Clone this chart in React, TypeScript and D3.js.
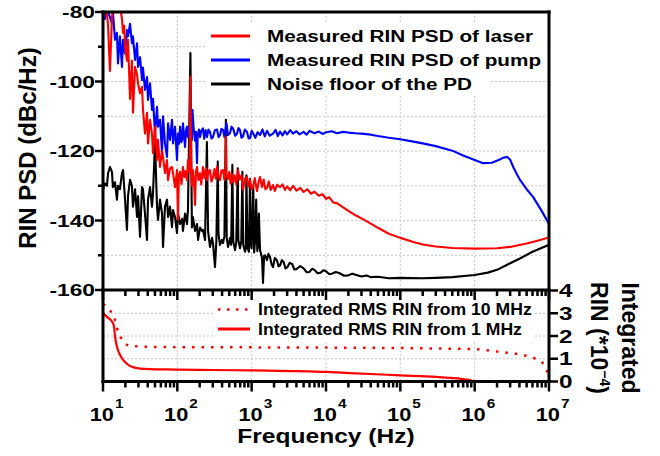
import React from "react";
import * as d3 from "d3";

// ---------- data ----------
const laserRIN: [number, number][] = [
  [10,-82.3],[10.6,-79],[11.3,-80.4],[11.7,-84],[12.4,-97],[13.2,-82],[13.6,-79],[14.5,-78],[15.4,-77],[16.9,-78],[18.0,-82],[18.6,-86],[19.3,-84],[19.8,-90],[21.0,-94],[21.7,-88],[23.1,-105],[24.5,-94],[25.3,-109],[27.0,-95.8],[28.7,-98],[29.6,-100.5],[31.5,-103.4],[33.5,-101.5],[34.5,-108],[36.7,-115],[39.1,-109],[40.3,-117.8],[42.9,-111],[45.6,-115],[47.1,-120.6],[50.1,-113],[53.3,-122.6],[55.0,-116.8],[58.5,-124.6],[62.2,-120],[64.2,-121.7],[68.2,-126.4],[72.6,-122.6],[75.0,-128.4],[79.7,-125],[84.8,-124.6],[89,-127.5],[93.1,-130.4],[99,-125.5],[102,-139.8],[105,-127],[109,-126],[114,-129.5],[119,-124.6],[125,-127.5],[130,-125.8],[135,-128.4],[139,-122.6],[144,-126],[147,-124],[150,-98.6],[153,-124],[157,-130],[162,-125.5],[167,-128.6],[173,-135.5],[178,-126],[184,-124.6],[192,-128.4],[202,-126.4],[210,-129.6],[221,-124.6],[232,-127.8],[243,-125],[251,-128.4],[263,-126],[275,-125.5],[288,-128.8],[302,-127.5],[315,-125.2],[330,-128],[342,-124.6],[358,-127.2],[375,-128.4],[392,-125.6],[412,-125.5],[430,-128.3],[445,-126.4],[450,-115.9],[456,-127],[481,-128],[500,-126],[520,-129.4],[540,-126.6],[561,-128.9],[590,-127],[620,-129.6],[655,-125.5],[690,-128.2],[730,-127],[765,-131.2],[810,-128],[866,-127.5],[900,-130.2],[950,-128.3],[1000,-131],[1042,-130.4],[1100,-127.8],[1180,-131.5],[1250,-128.6],[1295,-127.5],[1380,-130.4],[1450,-128.2],[1530,-131],[1608,-130.6],[1700,-128.7],[1800,-131.2],[1937,-129.8],[2050,-131.5],[2200,-129.7],[2404,-130.4],[2600,-129.6],[2800,-131.2],[3000,-130.2],[3300,-131.3],[3600,-130],[4000,-131.4],[4500,-130.6],[5000,-131.8],[5600,-131],[6300,-132.3],[7000,-131.7],[8000,-132.9],[9000,-132.4],[10000,-133.8],[11000,-133.3],[12500,-134.8],[14000,-135],[17000,-136.2],[20000,-137.2],[25000,-138.5],[30000,-139.4],[40000,-140.9],[50000,-142.1],[70000,-143.8],[1e5,-145],[1.5e5,-146.2],[2e5,-146.9],[3e5,-147.5],[5e5,-147.9],[1e6,-148.1],[2e6,-148],[3e6,-147.6],[5e6,-146.6],[7e6,-145.8],[1e7,-144.9],
];

const pumpRIN: [number, number][] = [
  [10,-80.4],[10.6,-82],[11.3,-79],[11.7,-80],[12.4,-81.5],[13.2,-83.4],[13.6,-80],[14.5,-88],[15.4,-86],[15.9,-94.8],[16.9,-87],[18.0,-95.8],[18.6,-88],[19.8,-92],[21.0,-85.2],[21.7,-87],[23.1,-83.4],[24.5,-89],[25.3,-87],[27.0,-93.8],[28.7,-89],[29.6,-95.8],[31.5,-93],[33.5,-99.6],[34.5,-96],[36.7,-102.4],[39.1,-98.7],[40.3,-105.3],[42.9,-100.5],[45.6,-108.2],[47.1,-105],[50.1,-115],[53.3,-107.3],[55.0,-113],[58.5,-111],[62.2,-120.6],[64.2,-110],[68.2,-117.8],[72.6,-121.7],[75.0,-112],[79.7,-116.8],[84.8,-111],[87.5,-117.8],[93.1,-113],[99,-122.6],[102,-115],[105,-118],[109,-113],[113,-117.5],[116,-116.8],[119,-112],[123,-115.5],[127,-118.8],[131,-114],[135,-113],[139,-116],[144,-113.2],[150,-112],[154,-115.5],[157,-116.8],[160,-108.2],[165,-113],[173,-117],[178,-114.5],[184,-123.5],[188,-115.5],[195,-113.8],[202,-116],[210,-114.2],[221,-113.5],[230,-116.5],[240,-114],[251,-116],[262,-113.8],[275,-114.5],[288,-116.4],[302,-116],[320,-114],[342,-113.8],[358,-116],[375,-115.5],[392,-113.6],[412,-114],[430,-116],[458,-112],[480,-115.4],[512,-114.8],[535,-113],[561,-113.5],[600,-115.6],[635,-115],[665,-113.4],[697,-114],[730,-116.2],[765,-115.8],[810,-113.8],[866,-114.5],[910,-116.4],[950,-116.3],[1000,-114.2],[1042,-114.8],[1120,-116.2],[1200,-114.6],[1295,-115.4],[1400,-113.8],[1500,-115.8],[1608,-114.2],[1750,-115.6],[1937,-115],[2100,-113.9],[2250,-115.7],[2404,-114.4],[2600,-115.5],[2800,-114.3],[3000,-115.2],[3300,-114],[3600,-115],[4000,-114.3],[4400,-115.2],[5000,-114.5],[5500,-115.3],[6000,-114.2],[7000,-114.9],[8000,-114.4],[9000,-115.1],[10000,-114.6],[12000,-114.3],[14000,-114.9],[17000,-114.5],[20000,-114.7],[25000,-114.9],[30000,-115],[40000,-115.3],[50000,-115.7],[70000,-116.2],[1e5,-116.6],[1.5e5,-117.3],[2e5,-117.8],[3e5,-118.6],[5e5,-119.9],[7e5,-121.3],[1e6,-122.6],[1.3e6,-123.5],[1.7e6,-123.4],[2.1e6,-122.6],[2.45e6,-121.9],[2.75e6,-121.7],[3e6,-122.5],[3.3e6,-124.6],[3.7e6,-126.7],[4.1e6,-128.4],[5e6,-131],[6.1e6,-133.2],[8e6,-137.3],[1e7,-141],
];

const noiseFloor: [number, number][] = [
  [10,-131.2],[10.6,-129.3],[11.3,-130],[11.7,-126.4],[12.4,-124.6],[13.2,-126],[13.6,-130.4],[14.5,-129],[15.4,-134],[15.9,-130],[16.9,-131],[18.0,-126.4],[18.6,-125.5],[19.8,-134],[21.0,-142.7],[21.7,-133],[23.1,-128.3],[24.5,-130],[25.3,-136],[27.0,-131],[28.7,-139],[29.6,-133],[31.5,-144.7],[33.5,-130.4],[34.5,-131],[36.7,-138],[39.1,-145.6],[40.3,-134],[42.9,-130.4],[45.6,-136],[47.1,-132],[50.1,-117.7],[53.3,-136],[55.0,-139.8],[58.5,-134],[62.2,-138],[64.2,-147.6],[68.2,-136],[72.6,-134],[75.0,-139],[79.7,-136],[84.8,-141.9],[87.5,-137],[93.1,-139],[99,-143.6],[102,-138],[109,-141],[116,-139.5],[119,-143],[127,-138],[135,-141],[139,-137],[150,-91.8],[157,-142],[162,-139],[173,-143],[184,-141],[190,-145.6],[202,-142],[215,-143],[221,-142.7],[236,-145.6],[250,-117.4],[259,-143],[275,-147.6],[293,-145],[302,-146.5],[321,-153.4],[335,-146],[350,-123],[358,-144],[375,-147],[399,-145.6],[412,-146.5],[430,-144.5],[450,-111],[462,-145],[481,-147.6],[512,-145],[530,-147],[550,-124],[565,-146],[597,-148.5],[620,-146.5],[650,-125],[662,-145.6],[697,-148],[725,-146],[750,-126],[770,-147],[814,-149],[835,-147.4],[850,-127],[880,-148],[920,-149],[950,-128],[975,-147],[1000,-148],[1050,-130],[1080,-149.2],[1109,-146],[1150,-134],[1190,-148.8],[1217,-147],[1250,-138],[1295,-148.5],[1378,-150.7],[1421,-158],[1470,-150.2],[1512,-150],[1608,-151.4],[1680,-149.6],[1765,-150.5],[1850,-152.6],[1937,-153.4],[2050,-150.8],[2193,-151.5],[2300,-153.2],[2404,-153],[2550,-151.4],[2700,-152],[2850,-153.8],[3000,-153.5],[3250,-152.2],[3500,-152.5],[3750,-154.1],[4000,-154],[4500,-153.1],[5000,-153.8],[5500,-154.9],[6000,-154.8],[6500,-153.9],[7000,-154.2],[7700,-155.2],[8500,-155],[9200,-154.3],[10000,-154.6],[11000,-155.4],[12000,-155.3],[13500,-154.8],[15000,-155.1],[17500,-155.9],[20000,-155.8],[22500,-155.3],[25000,-155.6],[30000,-156.1],[35000,-155.8],[40000,-156.3],[50000,-156.2],[70000,-156.6],[1e5,-156.5],[2e5,-156.6],[3e5,-156.5],[5e5,-156.3],[1e6,-155.7],[1.5e6,-155],[2e6,-154.2],[2.7e6,-152.8],[3e6,-152.3],[4e6,-151],[6e6,-149],[1e7,-147],
];

const rmsFrom10MHz: [number, number][] = [
  [10,3.4],[10.6,3.35],[11.7,3.16],[13.6,2.97],[14.5,2.7],[15.4,2.36],[17.4,1.93],[19,1.73],[23,1.57],[30,1.54],[42,1.52],[100,1.51],[1000,1.5],[1e4,1.49],[1e5,1.47],[3e5,1.45],[1e6,1.42],[2.2e6,1.3],[4.5e6,1.16],[6.4e6,1.02],[8.3e6,0.8],[9.3e6,0.5],[1e7,0.13],
];

const rmsFrom1MHz: [number, number][] = [
  [10,3.02],[11.3,2.84],[13.2,2.64],[14,2.45],[14.5,2.0],[15,1.69],[15.9,1.38],[18,1.02],[19.8,0.86],[23.1,0.68],[31.5,0.57],[72,0.53],[1000,0.49],[1e4,0.42],[2.1e4,0.37],[1e5,0.27],[3e5,0.2],[4.7e5,0.16],[7.9e5,0.08],[9.3e5,0.03],[1e6,0],
];

const psdTicks = [-160, -140, -120, -100, -80];
const psdMinorTicks = [-150, -130, -110, -90];
const rinTicks = [0, 1, 2, 3, 4];
const decadeExponents = [1, 2, 3, 4, 5, 6, 7];

const topLegend = [
  { label: "Measured RIN PSD of laser", color: "#ff0000" },
  { label: "Measured RIN PSD of pump", color: "#0000ff" },
  { label: "Noise floor of the PD", color: "#000000" },
];
const bottomLegend = [
  { label: "Integrated RMS RIN from 10 MHz", dotted: true },
  { label: "Integrated RMS RIN from 1 MHz", dotted: false },
];

const FONT = "'Liberation Sans', Arial, Helvetica, sans-serif";

function T(props: {
  x: number; y: number; sx?: number; size: number; anchor?: string; children: React.ReactNode; rotate?: number;
}) {
  const { x, y, sx = 1, size, anchor = "start", children, rotate = 0 } = props;
  return (
    <text
      transform={`translate(${x},${y}) rotate(${rotate}) scale(${sx},1)`}
      textAnchor={anchor as any}
      fontSize={size}
      fontWeight="bold"
      fontFamily={FONT}
      fill="#000"
    >
      {children}
    </text>
  );
}

export default function App() {
  const x = d3.scaleLog().domain([10, 1e7]).range([103, 549]);
  const yTop = d3.scaleLinear().domain([-160, -80]).range([290, 12]);
  const yBot = d3.scaleLinear().domain([0, 4]).range([381.5, 290.5]);

  const lineTop = d3.line<[number, number]>().x((d) => x(d[0])).y((d) => yTop(d[1]));
  const lineBot = d3
    .line<[number, number]>()
    .x((d) => x(d[0]))
    .y((d) => yBot(d[1]))
    .curve(d3.curveMonotoneX);

  const allTicks = x.ticks();
  const isMajor = (v: number) => Math.abs(Math.log10(v) - Math.round(Math.log10(v))) < 1e-9;
  const majorX = allTicks.filter(isMajor);
  const minorX = allTicks.filter((v) => !isMajor(v));

  const x0 = x.range()[0], x1 = x.range()[1];
  const yT0 = yTop.range()[1], yT1 = yTop.range()[0];
  const yB0 = yBot.range()[1], yB1 = yBot.range()[0];
  const grid = "#c4c4c4";

  return (
    <svg width={660} height={456} style={{ position: "absolute", left: 0, top: 0, background: "#fff" }}>
      <defs>
        <clipPath id="clipTop">
          <rect x={x0} y={yT0} width={x1 - x0} height={yT1 - yT0} />
        </clipPath>
        <clipPath id="clipBot">
          <rect x={x0} y={yB0} width={x1 - x0 + 2} height={yB1 - yB0 + 2} />
        </clipPath>
      </defs>

      {/* grid top */}
      {[...psdTicks, ...psdMinorTicks].map((v) => (
        <line key={"gt" + v} x1={x0} x2={x1} y1={yTop(v)} y2={yTop(v)} stroke={grid} strokeDasharray="2,2" />
      ))}
      {majorX.map((v) => (
        <line key={"gv" + v} x1={x(v)} x2={x(v)} y1={yT0} y2={yT1} stroke={grid} strokeDasharray="2,2" />
      ))}
      {/* grid bottom */}
      {rinTicks.map((v) => (
        <line key={"gb" + v} x1={x0} x2={x1} y1={yBot(v)} y2={yBot(v)} stroke={grid} strokeDasharray="2,2" />
      ))}
      {majorX.map((v) => (
        <line key={"gbv" + v} x1={x(v)} x2={x(v)} y1={yB0} y2={yB1} stroke={grid} strokeDasharray="2,2" />
      ))}

      {/* curves top */}
      <g clipPath="url(#clipTop)" fill="none" strokeWidth={2.1} strokeLinejoin="round">
        <path d={lineTop(noiseFloor) || ""} stroke="#000" />
        <path d={lineTop(pumpRIN) || ""} stroke="#0000ff" />
        <path d={lineTop(laserRIN) || ""} stroke="#ff0000" />
      </g>

      {/* top legend */}
      <rect x={205} y={24} width={340} height={48} fill="#fff" />
      <rect x={205} y={72} width={285} height={23} fill="#fff" />
      {topLegend.map((d, i) => {
        const yy = 36 + i * 24;
        return (
          <g key={d.label}>
            <line x1={211} x2={250} y1={yy} y2={yy} stroke={d.color} strokeWidth={3} />
            <T x={267} y={yy + 6} size={17} sx={1.22}>{d.label}</T>
          </g>
        );
      })}

      {/* bottom legend */}
      <rect x={214} y={299} width={321} height={42} fill="#fff" />
      {bottomLegend.map((d, i) => {
        const yy = 309.5 + i * 19.5;
        return (
          <g key={d.label}>
            <line
              x1={218} x2={250} y1={yy} y2={yy} stroke="#ff0000"
              strokeWidth={d.dotted ? 2.5 : 3}
              strokeDasharray={d.dotted ? "2.5,6.5" : undefined}
            />
            <T x={258} y={yy + 5.5} size={16.3} sx={1.08}>{d.label}</T>
          </g>
        );
      })}

      {/* curves bottom */}
      <g clipPath="url(#clipBot)" fill="none" stroke="#ff0000">
        <path d={lineBot(rmsFrom10MHz) || ""} strokeWidth={2.5} strokeDasharray="2.5,7" />
        <path d={lineBot(rmsFrom1MHz) || ""} strokeWidth={2.2} />
      </g>

      {/* frames */}
      <g stroke="#000" strokeWidth={3} fill="none" strokeLinecap="square">
        <line x1={x0} x2={x1} y1={yT0} y2={yT0} />
        <line x1={x1} x2={x1} y1={yT0} y2={yB1} />
        <line x1={x0} x2={x0} y1={yT0} y2={yB1} />
        <line x1={x0} x2={x1} y1={yT1} y2={yT1} />
        <line x1={x0} x2={x1} y1={yB1} y2={yB1} />
      </g>

      {/* ticks */}
      <g stroke="#000" strokeWidth={2.5}>
        {psdTicks.map((v) => (
          <line key={"yt" + v} x1={x0 - 8} x2={x0} y1={yTop(v)} y2={yTop(v)} />
        ))}
        {psdMinorTicks.map((v) => (
          <line key={"ym" + v} x1={x0 - 5} x2={x0} y1={yTop(v)} y2={yTop(v)} />
        ))}
        {rinTicks.map((v) => (
          <line key={"rt" + v} x1={x1} x2={x1 + 9} y1={yBot(v)} y2={yBot(v)} />
        ))}
        {[yT1, yB1].map((yy) => (
          <g key={"xt" + yy}>
            {majorX.map((v) => (
              <line key={"M" + v} x1={x(v)} x2={x(v)} y1={yy} y2={yy + 10} />
            ))}
            {minorX.map((v) => (
              <line key={"m" + v} x1={x(v)} x2={x(v)} y1={yy} y2={yy + 6} />
            ))}
          </g>
        ))}
      </g>

      {/* tick labels */}
      {psdTicks.map((v) => (
        <T key={"yl" + v} x={95} y={yTop(v) + 6} size={16.5} sx={1.38} anchor="end">{String(v)}</T>
      ))}
      {rinTicks.map((v) => (
        <T key={"rl" + v} x={559} y={yBot(v) + 6.5} size={18} sx={1.35}>{String(v)}</T>
      ))}
      {decadeExponents.map((e) => {
        const xv = x(Math.pow(10, e));
        return (
          <g key={"xl" + e}>
            <T x={xv + 11} y={421} size={18.5} sx={1.18} anchor="end">10</T>
            <T x={xv + 12} y={408} size={13} sx={1.18}>{String(e)}</T>
          </g>
        );
      })}

      {/* axis titles */}
      <T x={326} y={443} size={21} sx={1.17} anchor="middle">Frequency (Hz)</T>
      <T x={36} y={148} size={24} anchor="middle" rotate={-90}>RIN PSD (dBc/Hz)</T>
      <T x={622} y={338} size={23} anchor="middle" rotate={90}>Integrated</T>
      <T x={591} y={338} size={23} anchor="middle" rotate={90}>
        RIN (*10<tspan fontSize={14} dy={-9}>−4</tspan><tspan dy={9}>)</tspan>
      </T>
    </svg>
  );
}
